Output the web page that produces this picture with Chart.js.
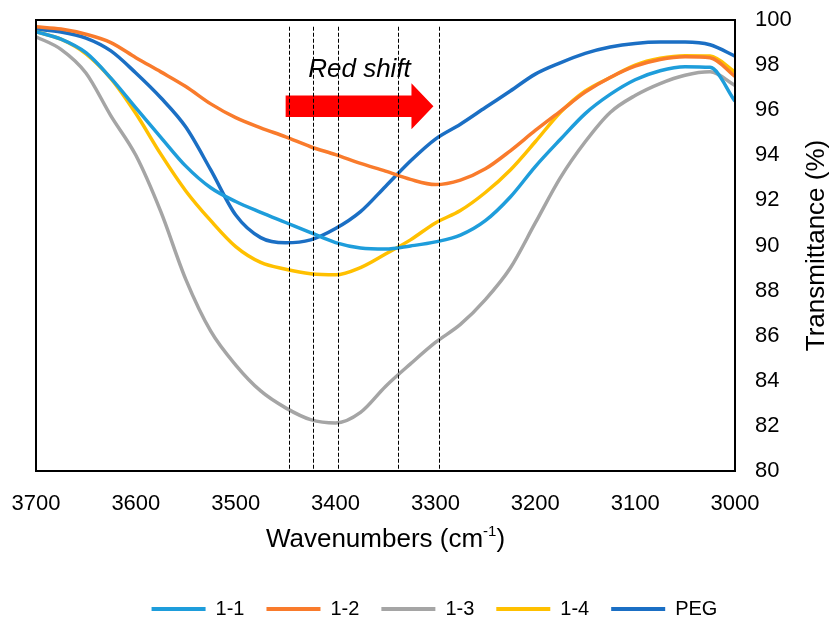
<!DOCTYPE html>
<html>
<head>
<meta charset="utf-8">
<script src="https://cdn.jsdelivr.net/npm/chart.js@4.4.1/dist/chart.umd.min.js"></script>
<style>
  html, body { margin: 0; padding: 0; background: #fff; }
  #wrap { width: 833px; height: 617px; position: relative; }
</style>
</head>
<body>
<div id="wrap"><canvas id="ftir"></canvas></div>
<script>
var wavenumbers = [3700, 3675, 3650, 3625, 3600, 3575, 3550, 3525, 3500, 3475, 3450, 3425, 3400, 3375, 3350,
                   3325, 3300, 3275, 3250, 3225, 3200, 3175, 3150, 3125, 3100, 3075, 3050, 3025, 3000]

var t11  = [99.48, 99.15, 98.55, 97.42, 96.10, 94.80, 93.52, 92.56, 91.95, 91.47, 91.02, 90.57, 90.13, 89.89, 89.84,
            89.98, 90.16, 90.46, 91.10, 92.15, 93.50, 94.70, 95.85, 96.70, 97.35, 97.75, 97.93, 97.90, 96.40]
var t12  = [99.70, 99.60, 99.37, 99.00, 98.33, 97.70, 97.05, 96.28, 95.67, 95.22, 94.82, 94.38, 94.03, 93.64, 93.30,
            92.93, 92.70, 92.90, 93.40, 94.20, 95.10, 95.95, 96.80, 97.45, 97.95, 98.25, 98.37, 98.33, 97.50]
var t13  = [99.26, 98.70, 97.65, 95.75, 94.00, 91.50, 88.50, 86.20, 84.70, 83.55, 82.80, 82.28, 82.13, 82.60, 83.75,
            84.75, 85.70, 86.50, 87.60, 89.00, 91.00, 93.00, 94.60, 95.90, 96.65, 97.18, 97.55, 97.70, 97.10]
var t14  = [99.48, 99.15, 98.50, 97.40, 95.85, 94.05, 92.42, 91.10, 89.95, 89.25, 88.95, 88.75, 88.70, 89.02, 89.62,
            90.25, 91.00, 91.55, 92.35, 93.35, 94.60, 95.90, 96.85, 97.45, 98.00, 98.30, 98.42, 98.40, 97.70]
var tPEG = [99.59, 99.47, 99.20, 98.63, 97.65, 96.55, 95.25, 93.35, 91.35, 90.35, 90.12, 90.25, 90.75, 91.50, 92.62,
            93.75, 94.72, 95.38, 96.12, 96.85, 97.60, 98.10, 98.52, 98.80, 98.96, 99.02, 99.02, 98.90, 98.40]

// band minima marked with dashed lines
var shiftLines = [3447, 3423, 3398, 3337, 3296]

var font = 'Liberation Sans, Arial, sans-serif'

function series(label, values, color) {
  return {
    label: label,
    data: wavenumbers.map(function (w, i) { return { x: w, y: values[i] } }),
    borderColor: color,
    backgroundColor: color,
    borderWidth: 3.5,
    pointRadius: 0,
    cubicInterpolationMode: 'monotone',
    fill: false
  }
}

var extras = {
  id: 'extras',
  afterLayout: function (chart) {
    // push legend row down to the bottom edge
    chart.legend.top += 12
    chart.legend.bottom += 12
  },
  afterDatasetsDraw: function (chart) {
    var ctx = chart.ctx, xs = chart.scales.x, ys = chart.scales.y, a = chart.chartArea

    // red arrow
    var x0 = xs.getPixelForValue(3450), x1 = xs.getPixelForValue(3324), xt = xs.getPixelForValue(3302)
    ctx.save()
    ctx.fillStyle = '#ff0000'
    ctx.beginPath()
    ctx.moveTo(x0, ys.getPixelForValue(96.65))
    ctx.lineTo(x1, ys.getPixelForValue(96.65))
    ctx.lineTo(x1, ys.getPixelForValue(97.2))
    ctx.lineTo(xt, ys.getPixelForValue(96.18))
    ctx.lineTo(x1, ys.getPixelForValue(95.15))
    ctx.lineTo(x1, ys.getPixelForValue(95.7))
    ctx.lineTo(x0, ys.getPixelForValue(95.7))
    ctx.closePath()
    ctx.fill()

    // dashed markers
    ctx.strokeStyle = '#000'
    ctx.lineWidth = 1
    ctx.setLineDash([4, 2])
    shiftLines.forEach(function (w) {
      var px = Math.round(xs.getPixelForValue(w)) + 0.5
      ctx.beginPath()
      ctx.moveTo(px, ys.getPixelForValue(99.7))
      ctx.lineTo(px, a.bottom)
      ctx.stroke()
    })
    ctx.setLineDash([])

    ctx.fillStyle = '#000'
    ctx.font = 'italic 26px ' + font
    ctx.textAlign = 'center'
    ctx.textBaseline = 'alphabetic'
    ctx.fillText('Red shift', xs.getPixelForValue(3376), ys.getPixelForValue(97.47))
    ctx.restore()
  },
  afterDraw: function (chart) {
    var ctx = chart.ctx, a = chart.chartArea
    ctx.save()
    ctx.strokeStyle = '#000'
    ctx.lineWidth = 2
    ctx.strokeRect(a.left, a.top, a.right - a.left, a.bottom - a.top)

    // x title with superscript
    ctx.fillStyle = '#000'
    ctx.textBaseline = 'alphabetic'
    ctx.textAlign = 'left'
    var big = '26px ' + font, small = '15px ' + font
    ctx.font = big
    var w1 = ctx.measureText('Wavenumbers (cm').width, w3 = ctx.measureText(')').width
    ctx.font = small
    var w2 = ctx.measureText('-1').width
    var sx = (a.left + a.right) / 2 - (w1 + w2 + w3) / 2, by = a.bottom + 76
    ctx.font = big
    ctx.fillText('Wavenumbers (cm', sx, by)
    ctx.font = small
    ctx.fillText('-1', sx + w1, by - 11)
    ctx.font = big
    ctx.fillText(')', sx + w1 + w2, by)

    // y title, reading upwards
    ctx.translate(a.right + 82, (a.top + a.bottom) / 2)
    ctx.rotate(-Math.PI / 2)
    ctx.textAlign = 'center'
    ctx.textBaseline = 'middle'
    ctx.font = big
    ctx.fillText('Transmittance (%)', 0, 0)
    ctx.restore()
  }
}

var chart = new Chart(document.getElementById('ftir'), {
  type: 'line',
  data: {
    datasets: [
      series('1-1', t11, '#1e9ddb'),
      series('1-2', t12, '#f97b2c'),
      series('1-3', t13, '#a5a5a5'),
      series('1-4', t14, '#ffc000'),
      series('PEG', tPEG, '#1b6fc4')
    ]
  },
  options: {
    responsive: true,
    maintainAspectRatio: false,
    animation: false,
    layout: { padding: { left: 36, top: 20, right: 0, bottom: 0 } },
    scales: {
      x: {
        type: 'linear',
        reverse: true,
        min: 3000,
        max: 3700,
        grid: { display: false },
        border: { display: false },
        ticks: {
          stepSize: 100, color: '#000', padding: 12, font: { family: font, size: 22 },
          callback: function (v) { return String(v) }
        },
        afterFit: function (s) { s.height = 94; s.paddingLeft = 0; s.paddingRight = 0 }
      },
      y: {
        position: 'right',
        min: 80,
        max: 100,
        grid: { display: false },
        border: { display: false },
        ticks: { stepSize: 2, color: '#000', padding: 12, font: { family: font, size: 22 } },
        afterFit: function (s) { s.width = 98; s.paddingTop = 0; s.paddingBottom = 0 }
      }
    },
    plugins: {
      legend: {
        position: 'bottom',
        labels: {
          boxWidth: 54,
          boxHeight: 4,
          padding: 22,
          color: '#000',
          font: { family: font, size: 20 },
          generateLabels: function (c) {
            return Chart.defaults.plugins.legend.labels.generateLabels(c).map(function (l) {
              l.fillStyle = l.strokeStyle
              l.lineWidth = 0
              return l
            })
          }
        }
      },
      tooltip: { enabled: false }
    }
  },
  plugins: [extras]
})
</script>
</body>
</html>
